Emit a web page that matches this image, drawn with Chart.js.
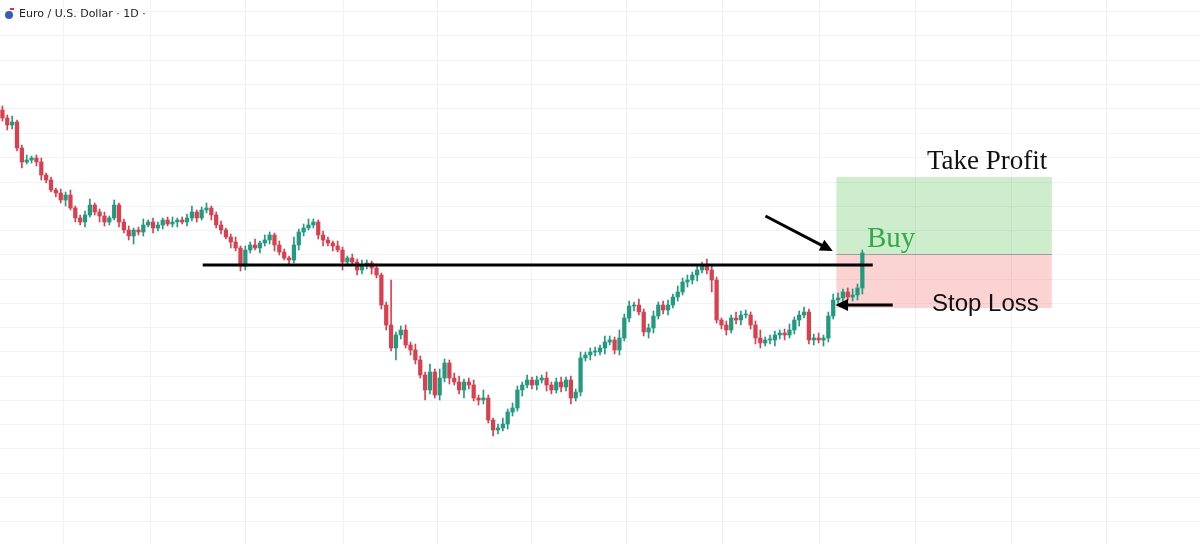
<!DOCTYPE html>
<html>
<head>
<meta charset="utf-8">
<script src="https://cdn.jsdelivr.net/npm/chart.js@4.4.0/dist/chart.umd.min.js"></script>
<style>
  html, body { margin: 0; padding: 0; background: #fff; }
  #wrap { width: 1200px; height: 544px; }
</style>
</head>
<body>
<div id="wrap"><canvas id="chart"></canvas></div>
<script>
// Closing levels (chart units, larger = lower on screen)
const closes = [118,125,122,148,162,160,158,162,175,180,190,193,200,195,208,218,222,215,205,212,
  216,222,218,205,222,230,236,230,232,225,222,228,225,220,224,222,220,222,218,212,
  218,210,208,215,225,230,237,242,248,266,250,245,248,243,240,235,245,252,258,260,
  245,232,228,225,222,235,240,243,246,250,262,258,262,270,266,263,268,275,305,325,
  348,335,330,345,350,360,375,390,372,395,378,363,378,382,390,382,385,398,400,398,
  420,430,428,424,412,408,390,385,380,385,380,378,385,390,382,387,380,398,392,358,
  355,352,352,348,342,340,350,338,318,306,305,312,332,328,316,305,310,305,297,292,
  282,280,275,270,265,270,280,320,325,330,318,320,315,315,325,338,343,340,340,335,
  333,335,330,320,315,312,340,338,340,338,316,300,298,292,297,295,288,253];
const firstOpen = 110;
// wick lengths above / below the body, read approximately
const upperWick = [4,3,6,2,3,5,2,3,4,2,3,2,4,3,5,2,3,4,6,2,3,4,2,5,2,3,4,2,3,6,2,4,3,2,3,5,2,3,4,6,
  2,3,5,2,3,4,2,3,5,2,4,3,6,2,5,3,2,4,3,2,8,3,4,6,3,2,4,3,2,5,3,2,4,3,6,3,2,4,2,3,
  45,3,4,5,3,6,4,3,8,3,9,4,3,5,6,3,4,5,3,8,3,2,4,6,3,5,4,3,5,3,4,3,6,3,4,5,3,4,3,6,
  3,4,5,3,6,4,3,8,4,5,3,6,3,4,5,3,4,5,3,6,4,5,3,4,3,6,4,3,2,4,3,6,4,5,3,4,8,3,5,4,
  3,4,6,3,4,5,3,4,5,3,4,6,5,3,4,6,4,3];
const lowerWick = [3,5,4,3,6,2,3,4,5,3,2,4,3,6,2,4,3,5,2,3,6,4,3,2,5,3,4,8,3,4,2,5,3,4,2,3,5,2,4,3,
  4,2,3,5,3,4,2,6,3,5,4,3,2,5,3,4,6,3,2,4,3,5,4,2,3,4,6,3,5,2,8,4,3,5,4,3,6,3,4,5,
  3,12,4,3,5,4,3,10,4,3,5,4,6,3,4,8,4,3,5,4,3,6,4,3,5,4,3,6,3,4,5,3,6,4,3,5,4,6,3,4,
  3,5,4,3,6,3,4,5,3,4,5,3,4,6,5,3,4,5,3,4,3,5,4,6,3,4,12,3,4,5,3,4,5,3,4,6,5,3,4,6,
  4,5,3,4,6,3,4,5,3,6,4,3,5,4,3,4,5,6];
const totalSlots = 247;
const yGrid = [11,35,60,84,108,133,157,182,206,230,254,279,303,327,351,376,400,424,448,473,497,521];
const xGrid = [58,154,265,370,472,577,682,788,895,1000,1105];
const title = 'Euro / U.S. Dollar · 1D ·';

const opens = closes.map((c, i) => i === 0 ? firstOpen : closes[i - 1]);
const labels = Array.from({ length: totalSlots }, (_, i) => i);
const bodies = closes.map((c, i) => [opens[i], c]);
const wicks = closes.map((c, i) => [Math.min(opens[i], c) - upperWick[i], Math.max(opens[i], c) + lowerWick[i]]);
const up = closes.map((c, i) => c <= opens[i]);
const GREEN = '#229a7f', RED = '#d9404f';
const colors = up.map(u => u ? GREEN : RED);

// overlay: boxes, level line, arrows, labels
const overlay = {
  id: 'overlay',
  beforeDatasetsDraw(chart) {
    const { ctx } = chart;
    const px = chart.scales.px, y = chart.scales.y;
    ctx.save();
    ctx.fillStyle = 'rgba(76,190,76,0.28)';
    ctx.fillRect(px.getPixelForValue(860), y.getPixelForValue(177), px.getPixelForValue(1097) - px.getPixelForValue(860), y.getPixelForValue(254) - y.getPixelForValue(177));
    ctx.fillStyle = 'rgba(245,110,110,0.30)';
    ctx.fillRect(px.getPixelForValue(860), y.getPixelForValue(254), px.getPixelForValue(1097) - px.getPixelForValue(860), y.getPixelForValue(308) - y.getPixelForValue(254));
    ctx.strokeStyle = 'rgba(120,120,120,0.6)';
    ctx.lineWidth = 1;
    ctx.beginPath();
    ctx.moveTo(px.getPixelForValue(860), y.getPixelForValue(254) + 0.5);
    ctx.lineTo(px.getPixelForValue(1097), y.getPixelForValue(254) + 0.5);
    ctx.stroke();
    ctx.restore();
  },
  afterDatasetsDraw(chart) {
    const { ctx } = chart;
    const px = chart.scales.px, y = chart.scales.y;
    const P = (a, b) => [px.getPixelForValue(a), y.getPixelForValue(b)];
    ctx.save();
    // neckline
    ctx.strokeStyle = '#000';
    ctx.lineWidth = 3;
    ctx.beginPath();
    ctx.moveTo(...P(163, 265));
    ctx.lineTo(...P(900, 265));
    ctx.stroke();
    // arrows
    const arrow = (x1, y1, x2, y2) => {
      const [a, b] = P(x1, y1), [c, d] = P(x2, y2);
      const ang = Math.atan2(d - b, c - a);
      ctx.lineWidth = 3;
      ctx.beginPath();
      ctx.moveTo(a, b);
      ctx.lineTo(c - 8 * Math.cos(ang), d - 8 * Math.sin(ang));
      ctx.stroke();
      ctx.beginPath();
      ctx.moveTo(c, d);
      ctx.lineTo(c - 14 * Math.cos(ang - 0.45), d - 14 * Math.sin(ang - 0.45));
      ctx.lineTo(c - 14 * Math.cos(ang + 0.45), d - 14 * Math.sin(ang + 0.45));
      ctx.closePath();
      ctx.fillStyle = '#000';
      ctx.fill();
    };
    arrow(782, 216, 856, 251);
    arrow(922, 305, 859, 305);
    // labels
    ctx.textBaseline = 'alphabetic';
    ctx.fillStyle = '#111';
    ctx.font = '27px "Liberation Serif", serif';
    ctx.fillText('Take Profit', 927, 169);
    ctx.fillStyle = '#34ab46';
    ctx.font = '29px "Liberation Serif", serif';
    ctx.fillText('Buy', 867, 247);
    ctx.fillStyle = '#111';
    ctx.font = '24px "Liberation Sans", Arial, sans-serif';
    ctx.fillText('Stop Loss', 932, 311);
    // title
    ctx.fillStyle = '#3b5bb8';
    ctx.beginPath();
    ctx.arc(9, 15, 4, 0, Math.PI * 2);
    ctx.fill();
    ctx.fillStyle = '#d33';
    ctx.fillRect(10, 8, 4, 2);
    ctx.fillStyle = '#222';
    ctx.font = '11px "DejaVu Sans", sans-serif';
    ctx.fillText(title, 19, 17);
    ctx.restore();
  }
};

new Chart(document.getElementById('chart'), {
  type: 'bar',
  data: {
    labels: labels,
    datasets: [
      { data: wicks, backgroundColor: colors, barThickness: 1, grouped: false, order: 2 },
      { data: bodies, backgroundColor: colors, barThickness: 3.6, minBarLength: 1, grouped: false, order: 1 }
    ]
  },
  options: {
    responsive: true,
    maintainAspectRatio: false,
    animation: false,
    layout: { padding: 0 },
    plugins: { legend: { display: false }, tooltip: { enabled: false } },
    scales: {
      x: { display: false, offset: true, grid: { display: false } },
      px: {
        type: 'linear', min: 0, max: 1200, position: 'bottom',
        afterBuildTicks: s => { s.ticks = xGrid.map(v => ({ value: v })); },
        grid: { color: '#f0f2f7', drawTicks: false },
        border: { display: false },
        ticks: { display: false }
      },
      y: {
        reverse: true, min: 0, max: 544,
        afterBuildTicks: s => { s.ticks = yGrid.map(v => ({ value: v })); },
        grid: { color: '#f0f2f7', drawTicks: false },
        border: { display: false },
        ticks: { display: false }
      }
    }
  },
  plugins: [overlay]
});
</script>
</body>
</html>
